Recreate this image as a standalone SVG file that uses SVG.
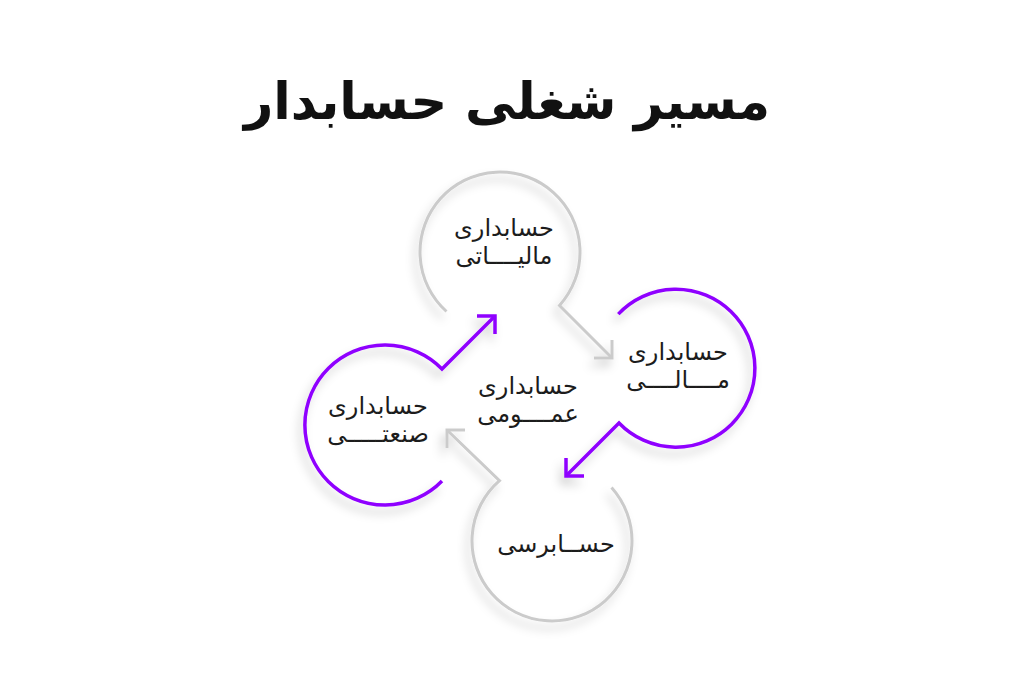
<svg xmlns="http://www.w3.org/2000/svg" width="1024" height="683" viewBox="0 0 1024 683">
  <defs>
    <filter id="sh" x="-30%" y="-30%" width="160%" height="160%">
      <feDropShadow dx="-4" dy="7" stdDeviation="5" flood-color="#000" flood-opacity="0.2"/>
    </filter>
  </defs>
  <style>
    .gray { fill: none; stroke: #cbcbcb; stroke-width: 3; stroke-linecap: butt; stroke-linejoin: miter; }
    .purple { fill: none; stroke: #8f00ff; stroke-width: 3.5; stroke-linecap: butt; stroke-linejoin: miter; }
    .lbl { font-family: "DejaVu Sans", "Noto Sans", sans-serif; font-size: 24px; fill: #1c1c1c; text-anchor: middle; direction: rtl; }
    .title { font-family: "DejaVu Sans", "Noto Sans", sans-serif; font-size: 51px; font-weight: bold; fill: #111; text-anchor: middle; direction: rtl; }
  </style>
  <rect width="1024" height="683" fill="#ffffff"/>

  <text class="title" x="507" y="119">مسیر شغلی حسابدار</text>

  <g id="connectors">
    <g id="arrow-top" filter="url(#sh)">
      <path class="gray" d="M 446.5 311.5 A 80 80 0 1 1 559.5 305.5 L 612 358"/>
      <path class="gray" d="M 612 340 L 612 358 L 594 358"/>
    </g>
    <g id="arrow-right" filter="url(#sh)">
      <path class="purple" d="M 618.3 314.1 A 79 79 0 1 1 619 423 L 566 476"/>
      <path class="purple" d="M 566 458 L 566 476 L 584 476"/>
    </g>
    <g id="arrow-bottom" filter="url(#sh)">
      <path class="gray" d="M 611.5 487.5 A 80 80 0 1 1 499.5 480.6 L 447 430"/>
      <path class="gray" d="M 465 430 L 447 430 L 447 448"/>
    </g>
    <g id="arrow-left" filter="url(#sh)">
      <path class="purple" d="M 442 481 A 80 80 0 1 1 442 369 L 495 316"/>
      <path class="purple" d="M 477 316 L 495 316 L 495 334"/>
    </g>
  </g>

  <g id="node-tax">
    <text class="lbl" x="504" y="236">حسابداری</text>
    <text class="lbl" x="504" y="264">مالیــــاتی</text>
  </g>
  <g id="node-financial">
    <text class="lbl" x="678" y="360">حسابداری</text>
    <text class="lbl" x="678" y="388">مــــالــــی</text>
  </g>
  <g id="node-audit">
    <text class="lbl" x="556" y="552">حســابرسی</text>
  </g>
  <g id="node-industrial">
    <text class="lbl" x="378" y="414">حسابداری</text>
    <text class="lbl" x="378" y="442">صنعتـــــی</text>
  </g>
  <g id="node-general">
    <text class="lbl" x="528" y="394">حسابداری</text>
    <text class="lbl" x="528" y="422">عمــــومی</text>
  </g>
</svg>
